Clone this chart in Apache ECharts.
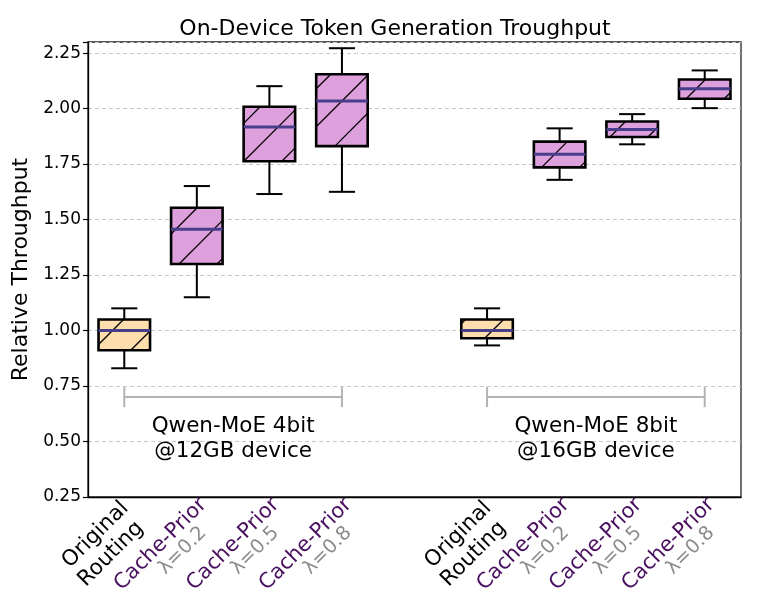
<!DOCTYPE html>
<html><head><meta charset="utf-8">
<script src="https://cdn.jsdelivr.net/npm/echarts@6.0.0/dist/echarts.min.js"></script>
<style>html,body{margin:0;padding:0;background:#fff}#c{width:774px;height:589px}</style>
</head><body><div id="c"></div>
<script>
// ---- data ----
const slotIds = ['s0','s1','s2','s3','gap','s5','s6','s7','s8'];
const labelMain = ['Original\nRouting','Cache-Prior','Cache-Prior','Cache-Prior','','Original\nRouting','Cache-Prior','Cache-Prior','Cache-Prior'];
const labelSub = ['','λ=0.2','λ=0.5','λ=0.8','','','λ=0.2','λ=0.5','λ=0.8'];
const yTicks = [0.25, 0.50, 0.75, 1.00, 1.25, 1.50, 1.75, 2.00, 2.25];

// Qwen-MoE 4bit @12GB (slots 0..3)
const g4Low  = [0.830, 1.150, 1.615, 1.625];
const g4Q1   = [0.911, 1.300, 1.763, 1.831];
const g4Med  = [1.000, 1.456, 1.917, 2.034];
const g4Q3   = [1.050, 1.553, 2.008, 2.155];
const g4High = [1.100, 1.651, 2.101, 2.272];
// Qwen-MoE 8bit @16GB (slots 5..8)
const g8Low  = [0.933, 1.679, 1.839, 2.002];
const g8Q1   = [0.965, 1.735, 1.872, 2.044];
const g8Med  = [1.000, 1.794, 1.906, 2.089];
const g8Q3   = [1.050, 1.851, 1.942, 2.131];
const g8High = [1.100, 1.911, 1.975, 2.172];

const groupNames = ['Qwen-MoE 4bit\n@12GB device', 'Qwen-MoE 8bit\n@16GB device'];
const groupStart = [0, 5];
const groupEnd = [3, 8];
const bracketLevel = [0.70, 0.70];

// ---- build ----
const boxData = [];
[[g4Low,g4Q1,g4Med,g4Q3,g4High,0],[g8Low,g8Q1,g8Med,g8Q3,g8High,5]].forEach(g => {
  for (let i = 0; i < 4; i++) {
    boxData.push([g[5] + i, g[0][i], g[1][i], g[2][i], g[3][i], g[4][i], i === 0 ? 0 : 1]);
  }
});
const bracketData = groupNames.map((n, i) => [groupStart[i], groupEnd[i], bracketLevel[i], i]);

const FONT = 'DejaVu Sans';
const fills = ['#FFDEAD', '#DDA0DD'];

function renderBox(params, api) {
  const x = api.value(0);
  const c = v => api.coord([x, v]);
  const yLo = c(api.value(1))[1], yQ1 = c(api.value(2))[1], yMed = c(api.value(3))[1],
        yQ3 = c(api.value(4))[1], yHi = c(api.value(5))[1];
  const cx = c(api.value(3))[0];
  const band = api.size([1, 0])[0];
  const bw = band * 0.71, cw = band * 0.36;
  const left = cx - bw / 2, right = cx + bw / 2, top = yQ3, bottom = yQ1;
  const kids = [];
  const wStyle = { stroke: '#000', lineWidth: 2 };
  kids.push({ type: 'line', shape: { x1: cx, y1: yQ3, x2: cx, y2: yHi }, style: wStyle });
  kids.push({ type: 'line', shape: { x1: cx, y1: yQ1, x2: cx, y2: yLo }, style: wStyle });
  kids.push({ type: 'line', shape: { x1: cx - cw / 2, y1: yHi, x2: cx + cw / 2, y2: yHi }, style: wStyle });
  kids.push({ type: 'line', shape: { x1: cx - cw / 2, y1: yLo, x2: cx + cw / 2, y2: yLo }, style: wStyle });
  kids.push({ type: 'rect', shape: { x: left, y: top, width: bw, height: bottom - top },
    style: { fill: fills[api.value(6)], stroke: null } });
  // hatch "/" lines: x + y = phase + k*P (pixel space)
  const P = 38, phase = 25;
  const sMin = left + top, sMax = right + bottom;
  for (let s = phase + Math.ceil((sMin - phase) / P) * P; s <= sMax; s += P) {
    const x1 = Math.max(left, s - bottom), x2 = Math.min(right, s - top);
    if (x2 > x1) kids.push({ type: 'line', shape: { x1: x1, y1: s - x1, x2: x2, y2: s - x2 },
      style: { stroke: '#000', lineWidth: 1.3 } });
  }
  kids.push({ type: 'rect', shape: { x: left, y: top, width: bw, height: bottom - top },
    style: { fill: null, stroke: '#000', lineWidth: 2.6 } });
  kids.push({ type: 'line', shape: { x1: left, y1: yMed, x2: right, y2: yMed },
    style: { stroke: '#483D8B', lineWidth: 3 } });
  return { type: 'group', children: kids };
}

function renderBracket(params, api) {
  const p0 = api.coord([api.value(0), api.value(2)]);
  const p1 = api.coord([api.value(1), api.value(2)]);
  const tk = Math.abs(api.coord([api.value(0), api.value(2) + 0.045])[1] - p0[1]);
  const st = { stroke: '#b3b3b3', lineWidth: 2 };
  return { type: 'group', children: [
    { type: 'line', shape: { x1: p0[0], y1: p0[1], x2: p1[0], y2: p1[1] }, style: st },
    { type: 'line', shape: { x1: p0[0], y1: p0[1] - tk, x2: p0[0], y2: p0[1] + tk }, style: st },
    { type: 'line', shape: { x1: p1[0], y1: p1[1] - tk, x2: p1[0], y2: p1[1] + tk }, style: st },
    { type: 'text', style: { x: (p0[0] + p1[0]) / 2, y: p0[1] + 17, text: groupNames[api.value(3)],
      align: 'center', verticalAlign: 'top', fontSize: 21.5, fontFamily: FONT, fill: '#000', lineHeight: 25 } }
  ]};
}

const chart = echarts.init(document.getElementById('c'), null, { renderer: 'canvas' });
chart.setOption({
  animation: false,
  backgroundColor: '#fff',
  title: { text: 'On-Device Token Generation Troughput', left: 390, top: 13, textAlign: 'center',
    textStyle: { fontFamily: FONT, fontSize: 22, fontWeight: 'normal', color: '#000' } },
  grid: { left: 88, right: 33, top: 42, bottom: 92, show: true, borderColor: '#222', borderWidth: 1.3,
    backgroundColor: 'transparent', containLabel: false, outerBoundsMode: 'none' },
  xAxis: {
    type: 'category', data: slotIds, boundaryGap: true,
    axisLine: { lineStyle: { color: '#000', width: 1.3 } },
    axisTick: { alignWithLabel: true, length: 5, lineStyle: { color: '#000', width: 1.2 }, interval: (i) => labelMain[i] !== '' },
    splitLine: { show: false },
    axisLabel: {
      interval: 0, rotate: 45, margin: -10, hideOverlap: false, verticalAlign: 'top', align: 'right',
      formatter: (v, i) => {
        if (!labelMain[i]) return '';
        if (labelSub[i]) return '{a|' + labelMain[i] + '}\n{b|' + labelSub[i] + '}';
        const parts = labelMain[i].split('\n');
        return '{o1|' + parts[0] + '}\n{o2|' + parts[1] + '}';
      },
      rich: {
        o1: { fontFamily: FONT, fontSize: 21.5, color: '#000', lineHeight: 27, padding: [0, 12.1, 0, 0] },
        o2: { fontFamily: FONT, fontSize: 21.5, color: '#000', lineHeight: 22, padding: [0, 15.6, 0, 0] },
        a: { fontFamily: FONT, fontSize: 21, color: '#4a1060', lineHeight: 30, padding: [0, 5.6, 0, 0] },
        b: { fontFamily: FONT, fontSize: 19.5, color: '#8c8c8c', lineHeight: 10, padding: [0, 25.6, 0, 0] }
      }
    }
  },
  yAxis: {
    type: 'value', min: 0.25, max: 2.30, interval: 0.25,
    name: 'Relative Throughput', nameLocation: 'middle', nameGap: 42,
    nameTextStyle: { fontFamily: FONT, fontSize: 22, color: '#000' },
    axisLine: { show: true, lineStyle: { color: '#000', width: 1.3 } },
    axisTick: { show: true, length: 5, lineStyle: { color: '#000', width: 1.2 } },
    axisLabel: { margin: 7, fontFamily: FONT, fontSize: 17, color: '#000',
      formatter: v => { const t = yTicks.find(k => Math.abs(k - v) < 1e-6); return t === undefined ? '' : t.toFixed(2); } },
    splitLine: { show: true, lineStyle: { color: '#c8c8c8', type: [4, 3], width: 1 } }
  },
  series: [
    { type: 'custom', renderItem: renderBracket, data: bracketData, encode: { x: [0, 1], y: 2 }, z: 3, silent: true },
    { type: 'custom', renderItem: renderBox, data: boxData, encode: { x: 0, y: [1, 2, 3, 4, 5] }, z: 4, silent: true }
  ]
});
</script></body></html>
